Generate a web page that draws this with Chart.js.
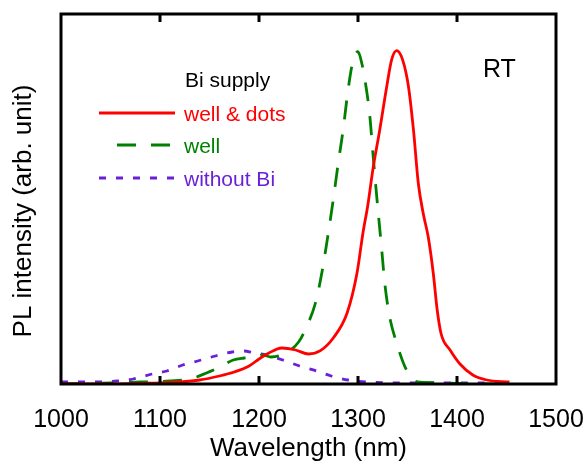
<!DOCTYPE html>
<html>
<head>
<meta charset="utf-8">
<script src="https://cdn.jsdelivr.net/npm/chart.js@4.4.1/dist/chart.umd.min.js"></script>
<style>
  html, body { margin: 0; padding: 0; background: #fff; }
  #wrap { width: 588px; height: 464px; position: relative; }
</style>
</head>
<body>
<div id="wrap"><canvas id="plChart"></canvas></div>
<script>
// PL spectra at room temperature (normalised, arb. unit)
const xTicks = [1000, 1100, 1200, 1300, 1400, 1500];

// Bi supply: well & dots
const wellDotsNm = [1000, 1050, 1080, 1100, 1120, 1140, 1160, 1175, 1190, 1200, 1210, 1223, 1237, 1250, 1262, 1275, 1289, 1299, 1305, 1310, 1315, 1322, 1329, 1334, 1339, 1345, 1351, 1356, 1361, 1366, 1371, 1376, 1380, 1384, 1393, 1403, 1416, 1430, 1453];
const wellDotsPl = [0, 0, 0.002, 0.003, 0.006, 0.012, 0.024, 0.036, 0.054, 0.075, 0.093, 0.108, 0.102, 0.09, 0.1, 0.138, 0.213, 0.333, 0.453, 0.538, 0.643, 0.763, 0.892, 0.973, 1.0, 0.973, 0.892, 0.763, 0.6, 0.51, 0.44, 0.333, 0.222, 0.15, 0.102, 0.06, 0.027, 0.012, 0.006];

// Bi supply: well
const wellNm = [1000, 1050, 1080, 1110, 1130, 1147, 1160, 1174, 1185, 1195, 1204, 1212, 1225, 1240, 1247, 1257, 1264, 1270, 1275, 1280, 1285, 1290, 1295, 1300, 1304, 1307, 1312, 1315, 1319, 1324, 1327, 1332, 1339, 1349, 1360, 1375, 1400, 1450];
const wellPl = [0, 0.003, 0.006, 0.009, 0.015, 0.033, 0.05, 0.072, 0.078, 0.081, 0.087, 0.081, 0.09, 0.126, 0.165, 0.243, 0.342, 0.453, 0.553, 0.662, 0.763, 0.883, 0.97, 0.997, 0.96, 0.913, 0.802, 0.694, 0.56, 0.402, 0.303, 0.201, 0.123, 0.042, 0.006, 0.004, 0.002, 0];

// without Bi
const noBiNm = [1000, 1020, 1040, 1057, 1073, 1092, 1107, 1123, 1138, 1156, 1173, 1185, 1195, 1208, 1224, 1241, 1258, 1273, 1290, 1309, 1350, 1400, 1450];
const noBiPl = [0.006, 0.006, 0.006, 0.009, 0.015, 0.03, 0.039, 0.057, 0.069, 0.084, 0.096, 0.099, 0.093, 0.087, 0.072, 0.054, 0.039, 0.024, 0.012, 0.006, 0.003, 0.003, 0.003];

const FONT = "'Liberation Sans', Arial, sans-serif";

function toPoints(xs, ys) {
  return xs.map((x, i) => ({ x: x, y: ys[i] }));
}

// frame, inward ticks, legend and extra labels
const decor = {
  id: "decor",
  afterDraw(chart) {
    const ctx = chart.ctx;
    const a = chart.chartArea;
    const xs = chart.scales.x;
    ctx.save();
    ctx.strokeStyle = "#000";
    ctx.lineWidth = 3;
    ctx.strokeRect(a.left, a.top, a.right - a.left, a.bottom - a.top);
    xs.ticks.forEach(t => {
      if (t.value <= xs.min || t.value >= xs.max) return;
      const px = Math.round(xs.getPixelForValue(t.value));
      ctx.beginPath();
      ctx.moveTo(px, a.bottom);
      ctx.lineTo(px, a.bottom - 8);
      ctx.moveTo(px, a.top);
      ctx.lineTo(px, a.top + 8);
      ctx.stroke();
    });

    // y title
    ctx.fillStyle = "#000";
    ctx.font = "26px " + FONT;
    ctx.textAlign = "center";
    ctx.textBaseline = "middle";
    ctx.translate(24, 211);
    ctx.rotate(-Math.PI / 2);
    ctx.fillText("PL intensity (arb. unit)", 0, 0);
    ctx.restore();

    ctx.save();
    ctx.textAlign = "left";
    ctx.textBaseline = "alphabetic";
    ctx.fillStyle = "#000";
    ctx.font = "25px " + FONT;
    ctx.fillText("RT", 483, 77);

    ctx.font = "21px " + FONT;
    ctx.fillText("Bi supply", 185, 87);
    const rows = [113, 145, 178];
    chart.data.datasets.forEach((ds, i) => {
      const y = rows[i];
      ctx.strokeStyle = ds.borderColor;
      ctx.lineWidth = ds.borderWidth;
      ctx.setLineDash(ds.borderDash || []);
      ctx.beginPath();
      ctx.moveTo(ds.legendFrom || 99, y);
      ctx.lineTo(ds.legendTo || 175, y);
      ctx.stroke();
      ctx.setLineDash([]);
      ctx.fillStyle = ds.borderColor;
      ctx.fillText(ds.label, 184, y + 8);
    });
    ctx.restore();
  }
};

new Chart(document.getElementById("plChart"), {
  type: "line",
  data: {
    datasets: [
      {
        label: "well & dots",
        data: toPoints(wellDotsNm, wellDotsPl),
        borderColor: "#ff0000",
        borderWidth: 2.8,
        pointRadius: 0,
        cubicInterpolationMode: "monotone"
      },
      {
        label: "well",
        data: toPoints(wellNm, wellPl),
        borderColor: "#008000",
        borderWidth: 2.8,
        borderDash: [19, 15],
        legendFrom: 117,
        legendTo: 172,
        pointRadius: 0,
        cubicInterpolationMode: "monotone"
      },
      {
        label: "without Bi",
        data: toPoints(noBiNm, noBiPl),
        borderColor: "#6a1fd8",
        borderWidth: 2.8,
        borderDash: [7, 10],
        pointRadius: 0,
        cubicInterpolationMode: "monotone"
      }
    ]
  },
  options: {
    responsive: true,
    maintainAspectRatio: false,
    animation: false,
    layout: { padding: { left: 61, top: 14, right: 32, bottom: 0 } },
    plugins: {
      legend: { display: false },
      tooltip: { enabled: false }
    },
    scales: {
      x: {
        type: "linear",
        min: 1000,
        max: 1500,
        afterBuildTicks(scale) {
          scale.ticks = xTicks.map(v => ({ value: v }));
        },
        afterFit(scale) {
          scale.height = 80;
          scale.paddingLeft = 0;
          scale.paddingRight = 0;
        },
        grid: { display: false, drawTicks: false },
        border: { display: false },
        ticks: {
          color: "#000",
          padding: 21,
          maxRotation: 0,
          font: { family: FONT, size: 25 },
          callback: v => String(v)
        },
        title: {
          display: true,
          text: "Wavelength (nm)",
          color: "#000",
          padding: { top: 0, bottom: 0 },
          font: { family: FONT, size: 26 }
        }
      },
      y: {
        display: false,
        min: 0,
        max: 1.11
      }
    }
  },
  plugins: [decor]
});
</script>
</body>
</html>
